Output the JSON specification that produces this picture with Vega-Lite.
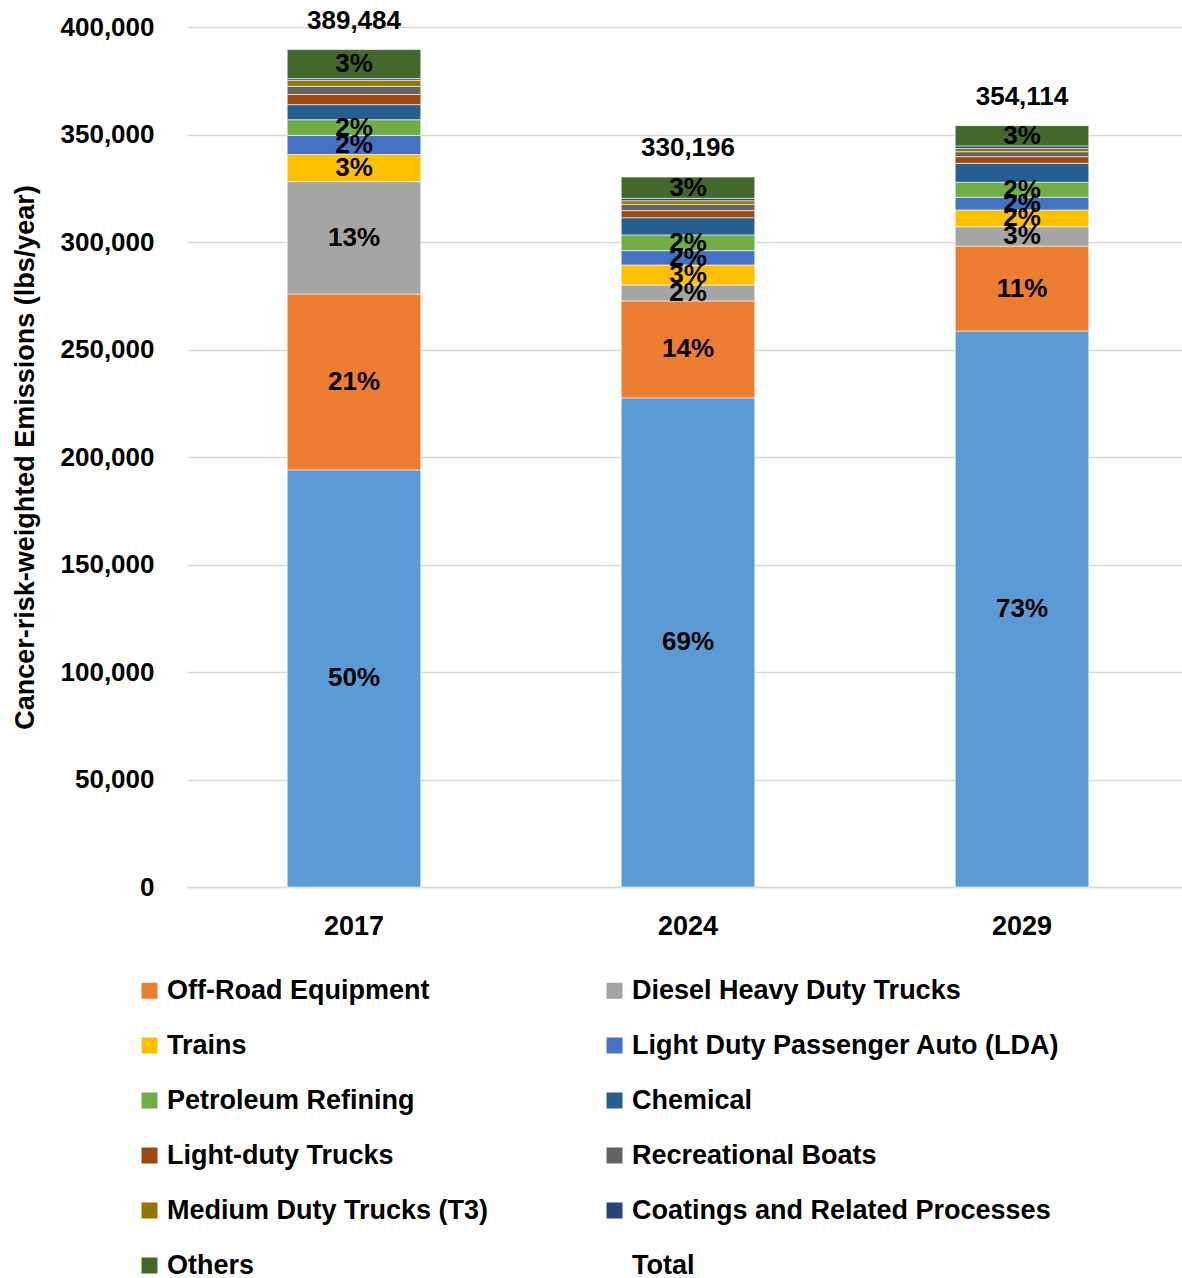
{
  "$schema": "https://vega.github.io/schema/vega-lite/v6.json",
  "width": 1002,
  "height": 860,
  "autosize": {"type": "none"},
  "padding": {"left": 187, "top": 27, "right": 0, "bottom": 391},
  "background": "white",
  "config": {
    "font": "Liberation Sans",
    "view": {"stroke": null}
  },
  "data": {
    "values": [
      {"year": "2017", "source": "Unlabeled Source", "value": 194000},
      {"year": "2017", "source": "Off-Road Equipment", "value": 81800},
      {"year": "2017", "source": "Diesel Heavy Duty Trucks", "value": 52300},
      {"year": "2017", "source": "Trains", "value": 12600},
      {"year": "2017", "source": "Light Duty Passenger Auto (LDA)", "value": 8900},
      {"year": "2017", "source": "Petroleum Refining", "value": 7300},
      {"year": "2017", "source": "Chemical", "value": 7000},
      {"year": "2017", "source": "Light-duty Trucks", "value": 4700},
      {"year": "2017", "source": "Recreational Boats", "value": 3800},
      {"year": "2017", "source": "Medium Duty Trucks (T3)", "value": 2800},
      {"year": "2017", "source": "Coatings and Related Processes", "value": 800},
      {"year": "2017", "source": "Others", "value": 13484},
      {"year": "2024", "source": "Unlabeled Source", "value": 227500},
      {"year": "2024", "source": "Off-Road Equipment", "value": 45100},
      {"year": "2024", "source": "Diesel Heavy Duty Trucks", "value": 7400},
      {"year": "2024", "source": "Trains", "value": 9300},
      {"year": "2024", "source": "Light Duty Passenger Auto (LDA)", "value": 6700},
      {"year": "2024", "source": "Petroleum Refining", "value": 7300},
      {"year": "2024", "source": "Chemical", "value": 8000},
      {"year": "2024", "source": "Light-duty Trucks", "value": 3300},
      {"year": "2024", "source": "Recreational Boats", "value": 2900},
      {"year": "2024", "source": "Medium Duty Trucks (T3)", "value": 1700},
      {"year": "2024", "source": "Coatings and Related Processes", "value": 1100},
      {"year": "2024", "source": "Others", "value": 9896},
      {"year": "2029", "source": "Unlabeled Source", "value": 258600},
      {"year": "2029", "source": "Off-Road Equipment", "value": 39500},
      {"year": "2029", "source": "Diesel Heavy Duty Trucks", "value": 9000},
      {"year": "2029", "source": "Trains", "value": 7800},
      {"year": "2029", "source": "Light Duty Passenger Auto (LDA)", "value": 5900},
      {"year": "2029", "source": "Petroleum Refining", "value": 7000},
      {"year": "2029", "source": "Chemical", "value": 8800},
      {"year": "2029", "source": "Light-duty Trucks", "value": 3100},
      {"year": "2029", "source": "Recreational Boats", "value": 2300},
      {"year": "2029", "source": "Medium Duty Trucks (T3)", "value": 1500},
      {"year": "2029", "source": "Coatings and Related Processes", "value": 1200},
      {"year": "2029", "source": "Others", "value": 9414}
    ]
  },
  "transform": [
    {"calculate": "indexof(['Unlabeled Source','Off-Road Equipment','Diesel Heavy Duty Trucks','Trains','Light Duty Passenger Auto (LDA)','Petroleum Refining','Chemical','Light-duty Trucks','Recreational Boats','Medium Duty Trucks (T3)','Coatings and Related Processes','Others'], datum.source)", "as": "ord"}
  ],
  "layer": [
    {
      "mark": {"type": "bar", "stroke": "white", "strokeWidth": 0.6},
      "encoding": {
        "x": {
          "field": "year", "type": "nominal",
          "scale": {"paddingInner": 0.6, "paddingOuter": 0.3},
          "axis": {
            "title": null, "labelAngle": 0, "labelFontSize": 27, "labelFontWeight": "bold",
            "labelColor": "black", "labelPadding": 26, "ticks": false,
            "domainColor": "#D9D9D9", "domainWidth": 1.5
          }
        },
        "y": {
          "field": "value", "type": "quantitative", "stack": "zero",
          "scale": {"domain": [0, 400000], "nice": false},
          "axis": {
            "title": "Cancer-risk-weighted Emissions (lbs/year)",
            "values": [0, 50000, 100000, 150000, 200000, 250000, 300000, 350000, 400000],
            "format": ",.0f", "labelFontSize": 26, "labelFontWeight": "bold", "labelColor": "black",
            "labelPadding": 33, "ticks": false, "domain": false,
            "gridColor": "#D9D9D9", "gridWidth": 1.5,
            "titleFontSize": 27, "titleFontWeight": "bold", "titleColor": "black",
            "titleX": -162, "titleY": 430, "titleBaseline": "middle"
          }
        },
        "order": {"field": "ord", "type": "quantitative", "sort": "ascending"},
        "color": {
          "field": "source", "type": "nominal",
          "scale": {
            "domain": ["Unlabeled Source", "Off-Road Equipment", "Diesel Heavy Duty Trucks", "Trains", "Light Duty Passenger Auto (LDA)", "Petroleum Refining", "Chemical", "Light-duty Trucks", "Recreational Boats", "Medium Duty Trucks (T3)", "Coatings and Related Processes", "Others", "Total"],
            "range": ["#5B9BD5", "#ED7D31", "#A5A5A5", "#FFC000", "#4472C4", "#70AD47", "#255E91", "#9E480E", "#636363", "#997300", "#264478", "#43682B", "transparent"]
          },
          "legend": {
            "values": ["Off-Road Equipment", "Diesel Heavy Duty Trucks", "Trains", "Light Duty Passenger Auto (LDA)", "Petroleum Refining", "Chemical", "Light-duty Trucks", "Recreational Boats", "Medium Duty Trucks (T3)", "Coatings and Related Processes", "Others", "Total"],
            "title": null, "orient": "none", "legendX": -51, "legendY": 950,
            "direction": "horizontal", "columns": 2, "columnPadding": 112, "rowPadding": 27,
            "labelFontSize": 27, "labelFontWeight": "bold", "labelColor": "black", "labelLimit": 600,
            "symbolType": "square", "symbolSize": 256, "symbolStrokeWidth": 0, "labelOffset": 4,
            "padding": 0
          }
        }
      }
    },
    {
      "transform": [
        {"joinaggregate": [{"op": "sum", "field": "value", "as": "tot"}], "groupby": ["year"]},
        {"stack": "value", "groupby": ["year"], "sort": [{"field": "ord", "order": "ascending"}], "as": ["v0", "v1"]},
        {"calculate": "(datum.v0 + datum.v1) / 2", "as": "mid"},
        {"calculate": "format(datum.value / datum.tot, '.0%')", "as": "pct"},
        {"filter": {"field": "source", "oneOf": ["Unlabeled Source", "Off-Road Equipment", "Diesel Heavy Duty Trucks", "Trains", "Light Duty Passenger Auto (LDA)", "Petroleum Refining", "Others"]}}
      ],
      "mark": {"type": "text", "fontSize": 26, "fontWeight": "bold", "color": "black", "baseline": "middle", "align": "center"},
      "encoding": {
        "x": {"field": "year", "type": "nominal"},
        "y": {"field": "mid", "type": "quantitative"},
        "text": {"field": "pct"}
      }
    },
    {
      "transform": [
        {"aggregate": [{"op": "sum", "field": "value", "as": "total"}], "groupby": ["year"]}
      ],
      "mark": {"type": "text", "fontSize": 26, "fontWeight": "bold", "color": "black", "baseline": "alphabetic", "align": "center", "dy": -21},
      "encoding": {
        "x": {"field": "year", "type": "nominal"},
        "y": {"field": "total", "type": "quantitative"},
        "text": {"field": "total", "format": ","}
      }
    }
  ]
}
